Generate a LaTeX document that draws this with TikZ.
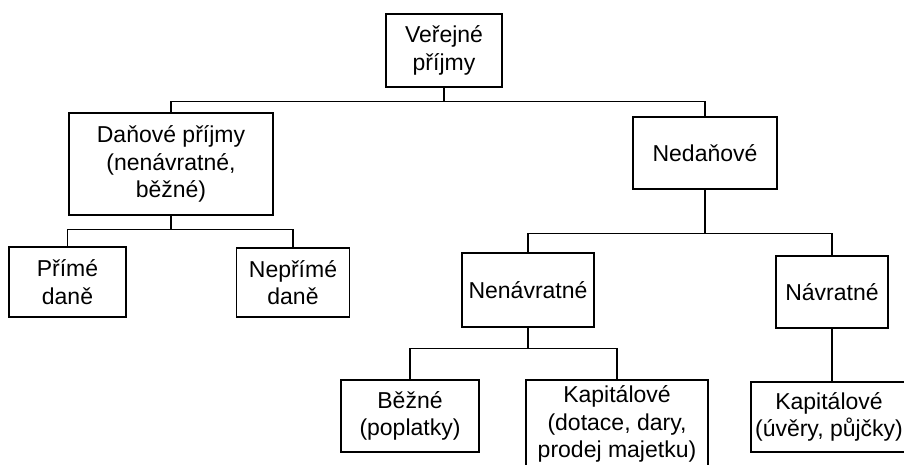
\documentclass[tikz,border=0pt]{standalone}
\usepackage{fontspec}
\setmainfont{Liberation Sans}
\begin{document}
\begin{tikzpicture}[x=1pt,y=-1pt,
  box/.style={draw, line width=1.1pt, inner sep=0pt, align=center,
    font=\fontsize{23}{27.5}\selectfont},
  conn/.style={line width=1.1pt}]
\useasboundingbox[fill=white] (0,0) rectangle (904,464);
% nodes
\node[box, minimum width=116pt, minimum height=73pt] (V) at (444,50.5) {Veřejné\\příjmy};
\node[box, minimum width=204pt, minimum height=102pt] (D) at (171,164) {Daňové příjmy\\(nenávratné,\\běžné)};
\node[box, minimum width=144pt, minimum height=72pt] (N) at (705,153) {Nedaňové};
\node[box, minimum width=117pt, minimum height=70pt] (P) at (67.5,282) {Přímé\\daně};
\node[box, minimum width=113pt, minimum height=69pt] (NP) at (293,282.5) {Nepřímé\\daně};
\node[box, minimum width=132pt, minimum height=74pt] (Nen) at (528,290) {Nenávratné};
\node[box, minimum width=112pt, minimum height=72pt] (Nav) at (832,292) {Návratné};
\node[box, minimum width=138pt, minimum height=72pt] (B) at (410,416) {Běžné\\(poplatky)};
\node[box, minimum width=182pt, minimum height=88pt] (K1) at (617,424) {Kapitálové\\(dotace, dary,\\prodej majetku)};
\node[box, minimum width=156pt, minimum height=70pt] (K2) at (829,417) {Kapitálové\\(úvěry, půjčky)};
% connectors
\draw[conn] (V.south) -- ++(0,14) coordinate (b1);
\draw[conn] (D.north) |- (b1) -| (N.north);
\draw[conn] (D.south) -- ++(0,14) coordinate (b2);
\draw[conn] (P.north) |- (b2) -| (NP.north);
\draw[conn] (N.south) -- ++(0,44) coordinate (b3);
\draw[conn] (Nen.north) |- (b3) -| (Nav.north);
\draw[conn] (Nen.south) -- ++(0,21) coordinate (b4);
\draw[conn] (B.north) |- (b4) -| (K1.north);
\draw[conn] (Nav.south) -- (Nav.south |- K2.north);
\end{tikzpicture}
\end{document}
